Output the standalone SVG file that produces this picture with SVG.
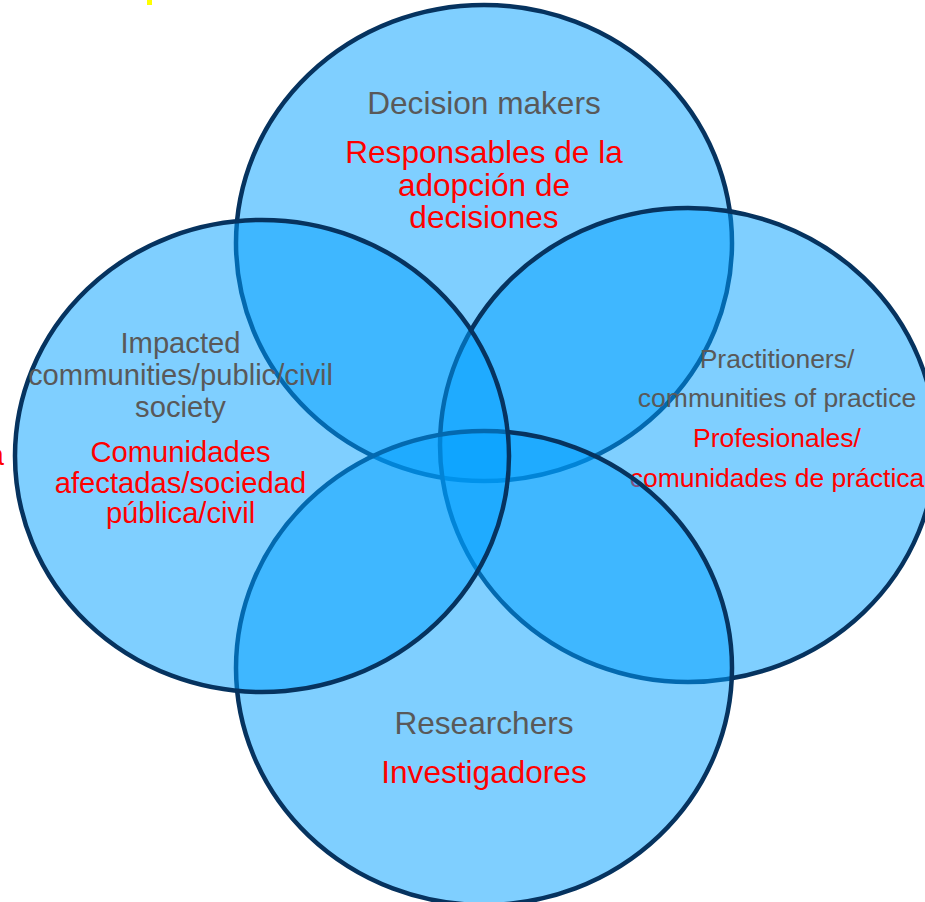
<svg xmlns="http://www.w3.org/2000/svg" width="925" height="902" viewBox="0 0 925 902">
  <style>
    .set { fill: #00A0FF; fill-opacity: 0.5; stroke: #06335F; stroke-width: 4.5; }
    .en { font-family: "Liberation Sans", Arial, sans-serif; fill: #595959; text-anchor: middle; }
    .es { font-family: "Liberation Sans", Arial, sans-serif; fill: #FF0000; text-anchor: middle; }
  </style>
  <rect width="925" height="902" fill="#FFFFFF"/>
  <rect x="147" y="0" width="5" height="5" fill="#FFFF00"/>
  <text x="4" y="465" font-family="Liberation Sans, Arial, sans-serif" font-size="29" fill="#FF0000" text-anchor="end">a</text>
  <g id="decision-makers">
    <ellipse class="set" cx="484" cy="243" rx="248" ry="238"/>
    <text class="en" x="484" y="114" font-size="31.6">Decision makers</text>
    <text class="es" x="484" y="163" font-size="31.6">Responsables de la</text>
    <text class="es" x="484" y="196" font-size="31.6">adopción de</text>
    <text class="es" x="484" y="228" font-size="31.6">decisiones</text>
  </g>
  <g id="practitioners">
    <ellipse class="set" cx="688" cy="445" rx="248" ry="237"/>
    <text class="en" x="777" y="368" font-size="26.5">Practitioners/</text>
    <text class="en" x="777" y="407" font-size="26.5">communities of practice</text>
    <text class="es" x="777" y="447" font-size="26.5">Profesionales/</text>
    <text class="es" x="777" y="487" font-size="26.5">comunidades de práctica</text>
  </g>
  <g id="researchers">
    <ellipse class="set" cx="484" cy="668" rx="248" ry="237"/>
    <text class="en" x="484" y="734" font-size="31.6">Researchers</text>
    <text class="es" x="484" y="783" font-size="31.6">Investigadores</text>
  </g>
  <g id="impacted-communities">
    <ellipse class="set" cx="262" cy="456" rx="247" ry="236"/>
    <text class="en" x="180.5" y="353" font-size="29.2">Impacted</text>
    <text class="en" x="180.5" y="385" font-size="29.2">communities/public/civil</text>
    <text class="en" x="180.5" y="417" font-size="29.2">society</text>
    <text class="es" x="180.5" y="462" font-size="29.2">Comunidades</text>
    <text class="es" x="180.5" y="493" font-size="29.2">afectadas/sociedad</text>
    <text class="es" x="180.5" y="523" font-size="29.2">pública/civil</text>
  </g>
  <g id="connectors"></g>
</svg>
